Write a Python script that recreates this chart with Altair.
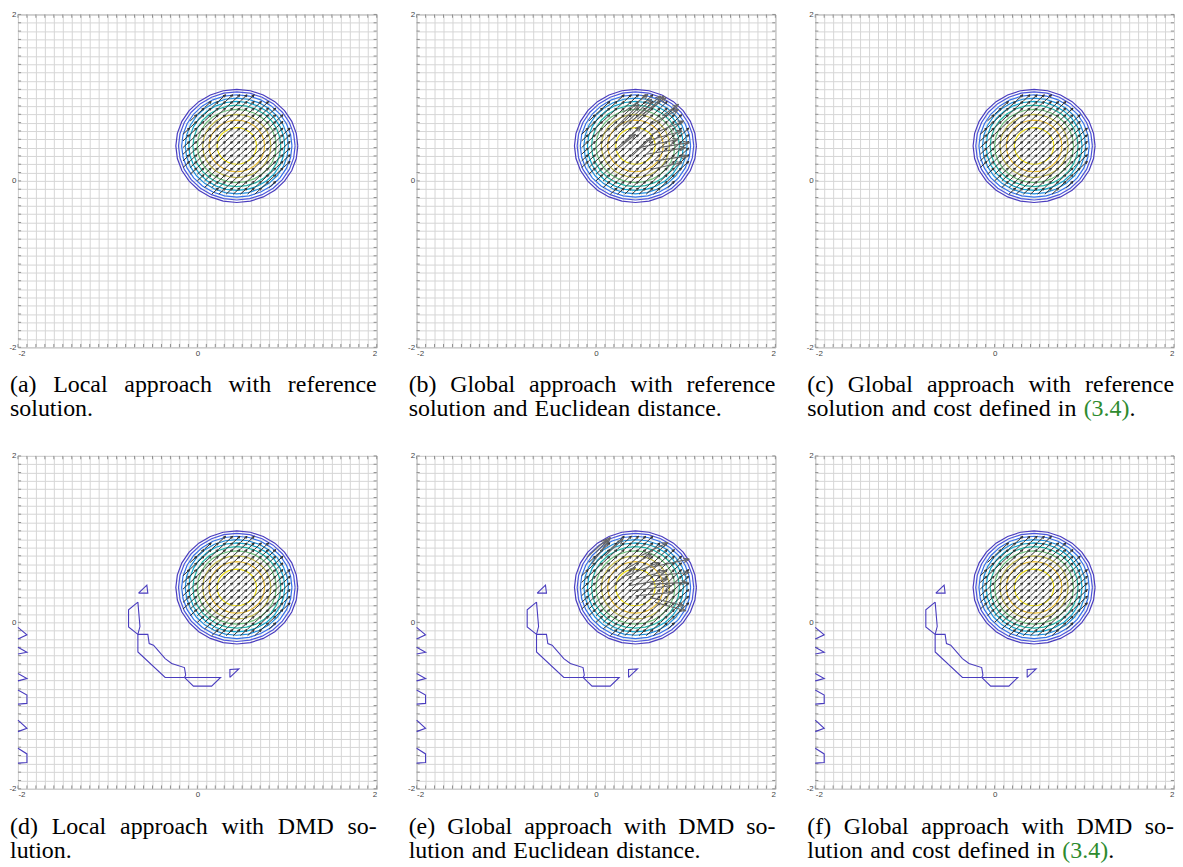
import numpy as np
import pandas as pd
import altair as alt

# ---------------- data ----------------
grid_values = [round(-2 + 0.1 * i, 1) for i in range(41)]
grid_values = [0.0 if abs(v) < 1e-9 else v for v in grid_values]

center_x = 0.44
center_y = 0.42
ring_names = ["c0", "c1", "c2", "c3", "c4", "c5", "c6", "c7", "c8", "c9"]
ring_radii = [0.68, 0.65, 0.615, 0.575, 0.535, 0.49, 0.44, 0.38, 0.31, 0.22]
ring_colors = ["#4a3dbf", "#4b56dc", "#3572e8", "#2290df", "#12a9d2", "#25b9ad",
               "#72c37f", "#c8bf52", "#efc23a", "#f3e41e"]
ring_vertices = 28

quiver_step = 0.08
quiver_u = 0.074
quiver_v = 0.074
quiver_radius = 0.61

# extra contour pieces of the DMD solution (panels d, e, f)
dmd_shapes = {
    "L1": [(-2.0, -0.06), (-1.9, -0.15), (-2.0, -0.20)],
    "L2": [(-2.0, -0.30), (-1.9, -0.36), (-2.0, -0.38)],
    "L3": [(-2.0, -0.615), (-1.9, -0.675), (-2.0, -0.703)],
    "L4": [(-2.0, -0.814), (-1.9, -0.874), (-1.9, -0.974), (-2.0, -0.982)],
    "L5": [(-2.0, -1.174), (-1.9, -1.273), (-2.0, -1.313)],
    "L6": [(-2.0, -1.513), (-1.9, -1.581), (-1.9, -1.685), (-2.0, -1.692)],
    "Ttop": [(-0.656, 0.351), (-0.563, 0.447), (-0.552, 0.351), (-0.656, 0.351)],
    "Arc1": [(-0.663, 0.243), (-0.767, 0.152), (-0.767, -0.056), (-0.663, -0.144),
             (-0.64, -0.05), (-0.663, 0.243)],
    "Arc2": [(-0.663, -0.144), (-0.663, -0.356), (-0.359, -0.662), (-0.144, -0.662)],
    "Arc3": [(-0.663, -0.144), (-0.552, -0.144), (-0.537, -0.255), (-0.489, -0.275),
             (-0.359, -0.435), (-0.286, -0.495), (-0.144, -0.543), (-0.130, -0.635),
             (-0.144, -0.662)],
    "Arc4": [(-0.144, -0.662), (-0.044, -0.766), (0.159, -0.766), (0.259, -0.662),
             (-0.144, -0.662)],
    "Tright": [(0.363, -0.662), (0.363, -0.566), (0.463, -0.559), (0.363, -0.662)],
}

# distorted arrows in panel (b) and (e): (x0, y0, x1, y1)
b_arrows = [
    (0.20, 0.62, 0.48, 0.92), (0.30, 0.66, 0.62, 0.98), (0.38, 0.70, 0.72, 1.02),
    (0.46, 0.74, 0.76, 1.02), (0.52, 0.80, 0.78, 1.00), (0.30, 0.82, 0.58, 1.04),
    (0.58, 0.66, 0.92, 0.86), (0.62, 0.56, 0.98, 0.72), (0.56, 0.48, 0.96, 0.60),
    (0.48, 0.40, 0.92, 0.50), (0.56, 0.32, 1.00, 0.40), (0.66, 0.24, 1.02, 0.30),
    (0.40, 0.30, 0.62, 0.52), (0.30, 0.44, 0.50, 0.66), (0.22, 0.36, 0.44, 0.56),
    (0.70, 0.40, 1.04, 0.46), (0.62, 0.14, 0.96, 0.22), (0.74, 0.78, 0.92, 0.92),
]
e_arrows = [
    (-0.10, 0.78, 0.12, 1.00), (-0.05, 0.70, 0.14, 0.98), (0.00, 0.84, 0.16, 1.02),
    (0.10, 0.80, 0.30, 1.00), (0.30, 0.62, 0.62, 0.82), (0.34, 0.56, 0.70, 0.72),
    (0.38, 0.50, 0.78, 0.62), (0.36, 0.44, 0.80, 0.52), (0.40, 0.38, 0.84, 0.44),
    (0.44, 0.32, 0.86, 0.36), (0.60, 0.66, 1.04, 0.76), (0.64, 0.56, 1.04, 0.60),
    (0.62, 0.46, 1.02, 0.48), (0.66, 0.24, 1.00, 0.14), (0.60, 0.30, 0.98, 0.20),
    (0.20, 0.46, 0.44, 0.66), (0.50, 0.80, 0.80, 0.96),
]

captions = {
    "a": ("(a) Local approach with reference", "solution."),
    "b": ("(b) Global approach with reference", "solution and Euclidean distance."),
    "c": ("(c) Global approach with reference", "solution and cost defined in (3.4)."),
    "d": ("(d) Local approach with DMD so-", "lution."),
    "e": ("(e) Global approach with DMD so-", "lution and Euclidean distance."),
    "f": ("(f) Global approach with DMD so-", "lution and cost defined in (3.4)."),
}
green_token = "(3.4)"

# ---------------- layout / style ----------------
W, H = 360, 334
CAP_LEFT, CAP_RIGHT = -8, 360
CAP_Y1, CAP_Y2 = 379, 403
CAP_FS = 24
CAP_FONT = "Liberation Serif"

TIMES = {" ": 250, "(": 333, ")": 333, ".": 250, "-": 333, ",": 250}
TIMES.update({d: 500 for d in "0123456789"})
TIMES.update(dict(a=444, b=500, c=444, d=500, e=444, f=333, g=500, h=500, i=278, j=278,
                  k=500, l=278, m=778, n=500, o=500, p=500, q=500, r=333, s=389, t=278,
                  u=500, v=500, w=722, x=500, y=500, z=444))
TIMES.update(dict(A=722, B=667, C=667, D=722, E=611, F=556, G=722, H=722, I=333, L=611,
                  M=889, N=722, O=722, P=556, R=667, S=556, T=611, U=722))


def tw(s):
    return sum(TIMES.get(ch, 500) for ch in s) / 1000.0 * CAP_FS


def px_to_x(px):
    return -2 + px * 4.0 / W


def py_to_y(py):
    return 2 - py * 4.0 / H


xscale = alt.Scale(domain=[-2, 2], nice=False, zero=False)
yscale = alt.Scale(domain=[-2, 2], nice=False, zero=False)
label_expr = "abs(datum.value) < 0.001 ? '0' : (datum.value < -1.99 ? '-2' : (datum.value > 1.99 ? '2' : ''))"
axis_common = dict(values=grid_values, grid=True, gridColor="#d6d6d6", gridWidth=1,
                   ticks=False, domain=False, labelExpr=label_expr, labelFontSize=8,
                   labelColor="#444444", labelFont="Liberation Sans", labelPadding=2,
                   labelOverlap=False, title=None)
xaxis = alt.Axis(**axis_common)
yaxis = alt.Axis(**axis_common)


def X(f="x"):
    return alt.X(f + ":Q", scale=xscale, axis=xaxis)


def Y(f="y"):
    return alt.Y(f + ":Q", scale=yscale, axis=yaxis)


# ticks (inward)
tick_rows = []
for v in grid_values:
    tick_rows.append(dict(x=v, y=-2, x2=v, y2=-1.96))
    tick_rows.append(dict(x=v, y=2, x2=v, y2=1.96))
    tick_rows.append(dict(x=-2, y=v, x2=-1.965, y2=v))
    tick_rows.append(dict(x=2, y=v, x2=1.965, y2=v))
ticks_df = pd.DataFrame(tick_rows)

# rings
ring_rows = []
theta = np.linspace(0, 2 * np.pi, ring_vertices + 1)
for name, r in zip(ring_names, ring_radii):
    for k, t in enumerate(theta):
        ring_rows.append(dict(x=center_x + r * np.cos(t), y=center_y + r * np.sin(t),
                              ring=name, idx=k))
rings_df = pd.DataFrame(ring_rows)

# dmd shapes
dmd_rows = []
for name, pts in dmd_shapes.items():
    for k, (x, y) in enumerate(pts):
        dmd_rows.append(dict(x=x, y=y, shape=name, idx=k))
dmd_df = pd.DataFrame(dmd_rows)


def arrow_segments(arrows, head_frac=None, head_len=None, ang_deg=24):
    rows = []
    a = np.radians(ang_deg)
    for (x0, y0, x1, y1) in arrows:
        dx, dy = x1 - x0, y1 - y0
        L = np.hypot(dx, dy)
        if L == 0:
            continue
        hl = head_len if head_len is not None else head_frac * L
        bx, by = -dx / L, -dy / L
        rows.append(dict(x=x0, y=y0, x2=x1, y2=y1))
        for s in (1, -1):
            rx = bx * np.cos(s * a) - by * np.sin(s * a)
            ry = bx * np.sin(s * a) + by * np.cos(s * a)
            rows.append(dict(x=x1, y=y1, x2=x1 + hl * rx, y2=y1 + hl * ry))
    return pd.DataFrame(rows)


qpos = [round(-2 + quiver_step * i, 4) for i in range(int(round(4 / quiver_step)) + 1)]
reg_arrows = []
for qx in qpos:
    for qy in qpos:
        mx, my = qx + quiver_u / 2, qy + quiver_v / 2
        if np.hypot(mx - center_x, my - center_y) <= quiver_radius:
            reg_arrows.append((qx, qy, qx + quiver_u, qy + quiver_v))
reg_df = arrow_segments(reg_arrows, head_frac=0.3, ang_deg=24)
b_df = arrow_segments(b_arrows, head_len=0.07, ang_deg=22)
e_df = arrow_segments(e_arrows, head_len=0.07, ang_deg=22)


def caption_frames(line1, line2):
    left_rows, right_rows, green_rows = [], [], []
    words = line1.split(" ")
    widths = [tw(w) for w in words]
    gap = (CAP_RIGHT - CAP_LEFT - sum(widths)) / (len(words) - 1)
    pos = CAP_LEFT
    for i, w in enumerate(words):
        if i == len(words) - 1:
            right_rows.append(dict(x=px_to_x(CAP_RIGHT), y=py_to_y(CAP_Y1), text=w))
        else:
            left_rows.append(dict(x=px_to_x(pos), y=py_to_y(CAP_Y1), text=w))
        pos += widths[i] + gap
    pos = CAP_LEFT
    sp = 0.3 * CAP_FS
    for w in line2.split(" "):
        if w.startswith(green_token):
            green_rows.append(dict(x=px_to_x(pos), y=py_to_y(CAP_Y2), text=green_token))
            rest = w[len(green_token):]
            if rest:
                left_rows.append(dict(x=px_to_x(pos + tw(green_token)), y=py_to_y(CAP_Y2), text=rest))
        else:
            left_rows.append(dict(x=px_to_x(pos), y=py_to_y(CAP_Y2), text=w))
        pos += tw(w) + sp
    return pd.DataFrame(left_rows), pd.DataFrame(right_rows), pd.DataFrame(green_rows)


def panel(key):
    layers = []
    layers.append(alt.Chart(ticks_df).mark_rule(color="#909090", strokeWidth=1).encode(
        x=X(), y=Y(), x2="x2:Q", y2="y2:Q"))
    layers.append(alt.Chart(rings_df).mark_line(strokeWidth=1.2).encode(
        x=X(), y=Y(), order="idx:Q",
        color=alt.Color("ring:N", scale=alt.Scale(domain=ring_names, range=ring_colors),
                        legend=None)))
    if key in "def":
        layers.append(alt.Chart(dmd_df).mark_line(strokeWidth=1.1, color="#4a3dbf").encode(
            x=X(), y=Y(), order="idx:Q", detail="shape:N"))
    layers.append(alt.Chart(reg_df).mark_rule(color="#2e2e2e", strokeWidth=1.0).encode(
        x=X(), y=Y(), x2="x2:Q", y2="y2:Q"))
    if key == "b":
        layers.append(alt.Chart(b_df).mark_rule(color="#666666", strokeWidth=1.1).encode(
            x=X(), y=Y(), x2="x2:Q", y2="y2:Q"))
    if key == "e":
        layers.append(alt.Chart(e_df).mark_rule(color="#666666", strokeWidth=1.1).encode(
            x=X(), y=Y(), x2="x2:Q", y2="y2:Q"))
    ldf, rdf, gdf = caption_frames(*captions[key])
    txt = dict(baseline="alphabetic", font=CAP_FONT, fontSize=CAP_FS)
    layers.append(alt.Chart(ldf).mark_text(align="left", color="#000000", **txt).encode(
        x=X(), y=Y(), text="text:N"))
    layers.append(alt.Chart(rdf).mark_text(align="right", color="#000000", **txt).encode(
        x=X(), y=Y(), text="text:N"))
    if len(gdf):
        layers.append(alt.Chart(gdf).mark_text(align="left", color="#2e8b2e", **txt).encode(
            x=X(), y=Y(), text="text:N"))
    return alt.layer(*layers).properties(width=W, height=H)


chart = alt.concat(
    *[panel(k) for k in "abcdef"], columns=3,
    spacing={"row": 109, "column": 40}, bounds="flush"
).properties(padding=0).configure_view(stroke="#a0a0a0", strokeWidth=1)

chart.save("out.html", embed_options={"renderer": "svg", "actions": False})
